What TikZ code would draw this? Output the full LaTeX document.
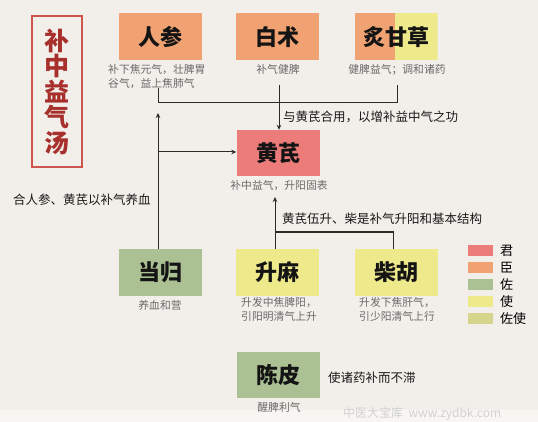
\documentclass[tikz,border=0pt]{standalone}
\usepackage{fontspec}
\setmainfont{Noto Sans CJK SC}
\usetikzlibrary{arrows.meta}
\definecolor{bg}{HTML}{F2EFEA}
\definecolor{bgl}{HTML}{F7F6F3}
\definecolor{cjun}{HTML}{EC7C7A}
\definecolor{cchen}{HTML}{F0A272}
\definecolor{czuo}{HTML}{ABC193}
\definecolor{cshi}{HTML}{EEEA8C}
\definecolor{czs}{HTML}{D6D58C}
\definecolor{tred}{HTML}{A8302C}
\definecolor{bred}{HTML}{CC5550}
\definecolor{capc}{HTML}{6A6A6A}
\definecolor{linec}{HTML}{2A2A2A}
\tikzset{
  herb/.style={minimum width=83pt, minimum height=47pt, inner sep=0pt, font=\bfseries\fontsize{22}{24}\selectfont, text=black!92},
  capt/.style={font=\fontsize{10.8}{14}\selectfont, text=capc, inner sep=1pt, align=left},
  lbl/.style={font=\fontsize{12.5}{14}\selectfont, text=black!90, inner sep=0pt, anchor=west},
  conn/.style={draw=linec, line width=1pt},
  arr/.style={conn, -{Stealth[length=5pt,width=4.5pt]}},
  swatch/.style={minimum width=25pt, minimum height=11pt, inner sep=0pt, anchor=north west},
  legt/.style={font=\fontsize{13}{14}\selectfont, text=black, inner sep=0pt, anchor=west},
}
\begin{document}
\begin{tikzpicture}[x=1pt,y=-1pt]
\fill[bg] (0,0) rectangle (538,410);
\fill[bgl] (0,410) rectangle (538,422);
\useasboundingbox (0,0) rectangle (538,422);
% title
\node[draw=bred, line width=2.5pt, minimum width=50pt, minimum height=151pt, inner sep=0pt,
      font=\bfseries\fontsize{25}{25.5}\selectfont, text=tred, align=center] (title) at (57,91.5)
      {补\\中\\益\\气\\汤};
% herbs
\node[herb, fill=cchen] (rs) at (160,37) {人参};
\node[herb, fill=cchen] (bz) at (277.5,37) {白术};
\node[herb, path picture={
   \fill[cchen] (path picture bounding box.south west) rectangle ([xshift=-1pt]path picture bounding box.north);
   \fill[cshi] ([xshift=-1pt]path picture bounding box.north) rectangle (path picture bounding box.south east);}]
   (gc) at (396,37) {炙甘草};
\node[herb, fill=cjun, minimum height=46pt] (hq) at (278,153) {黄芪};
\node[herb, fill=czuo] (dg) at (160.5,272.5) {当归};
\node[herb, fill=cshi] (sm) at (277.5,272.5) {升麻};
\node[herb, fill=cshi] (ch) at (396.5,272.5) {柴胡};
\node[herb, fill=czuo, minimum height=46pt] (cp) at (278.5,375) {陈皮};
% captions
\node[capt, anchor=north west] (rsc) at (107,63) {补下焦元气，壮脾胃\\谷气，益上焦肺气};
\node[capt, anchor=north] (bzc) at (278,63) {补气健脾};
\node[capt, anchor=north] (gcc) at (397,63) {健脾益气；调和诸药};
\node[capt, anchor=north] (hqc) at (279,179) {补中益气，升阳固表};
\node[capt, anchor=north] (dgc) at (160,299) {养血和营};
\node[capt, anchor=north] (smc) at (279,296) {升发中焦脾阳，\\引阳明清气上升};
\node[capt, anchor=north] (chc) at (397,296) {升发下焦肝气，\\引少阳清气上行};
\node[capt, anchor=north] (cpc) at (279,401) {醒脾利气};
% labels
\node[lbl] (l1) at (283,117) {与黄芪合用，以增补益中气之功};
\node[lbl] (l2) at (13,200) {合人参、黄芪以补气养血};
\node[lbl] (l3) at (282,219) {黄芪伍升、柴是补气升阳和基本结构};
\node[lbl] (l4) at (328,378) {使诸药补而不滞};
% connectors
\coordinate (j1) at (158,103);
\coordinate (j2) at (397,103);
\coordinate (j1s) at (158,88);
\coordinate (j2s) at (397,85);
\coordinate (bzs) at (279,85);
\draw[conn] (j1s) -- (j1) -- (j2) -- (j2s);
\draw[arr] (bzs) -- (bzs |- hq.north);
\coordinate (lt) at (158,113);
\coordinate (lm) at (158,152);
\draw[arr] (dg.north -| lt) -- (lt);
\draw[arr] (lm) -- (hq.west |- lm);
\coordinate (k1) at (275,232);
\coordinate (k2) at (393,232);
\coordinate (ht) at (275,197);
\draw[arr] (sm.north -| k1) -- (ht);
\draw[conn] (k1) -- (k2) -- (ch.north -| k2);
% legend
\node[swatch, fill=cjun] (s1) at (468,245) {};
\node[swatch, fill=cchen] (s2) at (468,262) {};
\node[swatch, fill=czuo] (s3) at (468,279) {};
\node[swatch, fill=cshi] (s4) at (468,296) {};
\node[swatch, fill=czs] (s5) at (468,313) {};
\node[legt] (t1) at (500,250.5) {君};
\node[legt] (t2) at (500,267.5) {臣};
\node[legt] (t3) at (500,284.5) {佐};
\node[legt] (t4) at (500,301.5) {使};
\node[legt] (t5) at (500,318.5) {佐使};
% watermark
\node[font=\fontsize{12}{12}\selectfont, text=black!18, anchor=west, inner sep=0pt] (wm) at (343,414) {中医大宝库\ \ www.zydbk.com};
\end{tikzpicture}
\end{document}
